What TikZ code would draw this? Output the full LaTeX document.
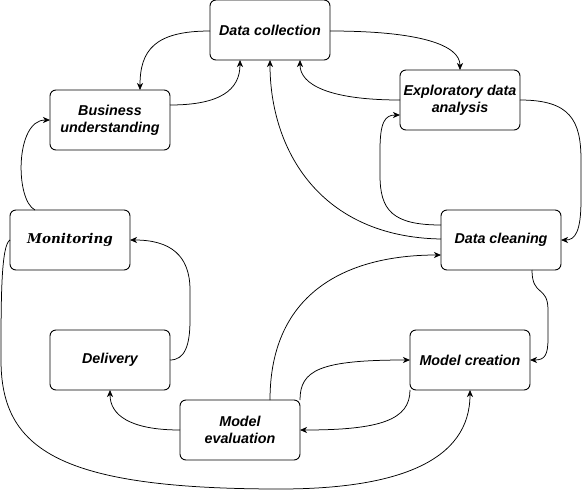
\documentclass[tikz,border=0pt]{standalone}
\usepackage{fontspec}
\setmainfont{Liberation Sans}
\newfontfamily\monitorfont{DejaVu Serif}
\usetikzlibrary{arrows.meta}
\begin{document}
\begin{tikzpicture}[x=1pt,y=-1pt,
  box/.style={draw, line width=0.9pt, rounded corners=6pt, minimum width=120pt, minimum height=60pt, inner sep=0pt, align=center, font=\fontsize{14.3}{17}\selectfont\bfseries\itshape},
  conn/.style={line width=0.75pt, -{Stealth[length=7pt,width=6pt,inset=2pt]}}]
\useasboundingbox (0,0) rectangle (582,491);
\node[box] (dc) at (270,30) {Data collection};
\node[box] (bu) at (110,120) {Business\\understanding};
\node[box] (eda) at (460,100) {Exploratory data\\analysis};
\node[box, font=\fontsize{13.5}{16}\selectfont\monitorfont\bfseries\itshape] (mon) at (70,240) {Monitoring};
\node[box] (cl) at (501,240) {Data cleaning};
\node[box] (del) at (110,360) {Delivery};
\node[box] (mc) at (470,360) {Model creation};
\node[box] (me) at (240,430) {Model\\evaluation};

% coordinates on box borders
\coordinate (dcW) at (210,31);
\coordinate (dcE) at (330,31);
\coordinate (dcB1) at (240,60);
\coordinate (dcB2) at (270,60);
\coordinate (dcB3) at (300,60);
\coordinate (buT) at (140,90);
\coordinate (buE) at (170,105);
\coordinate (buW) at (50,120);
\coordinate (edaT) at (460,70);
\coordinate (edaW1) at (400,100);
\coordinate (edaW2) at (400,115);
\coordinate (edaE) at (520,100);
\coordinate (clW1) at (441,225);
\coordinate (clW2) at (441,239);
\coordinate (clW3) at (441,255);
\coordinate (clE) at (561,240);
\coordinate (clB) at (532,270);
\coordinate (mcE) at (530,360);
\coordinate (mcW) at (410,360);
\coordinate (mcBL) at (410,390);
\coordinate (mcB) at (470,390);
\coordinate (meT1) at (270,400);
\coordinate (meT2) at (300,400);
\coordinate (meE) at (300,430);
\coordinate (meW) at (180,430);
\coordinate (delB) at (110,390);
\coordinate (delE) at (170,360);
\coordinate (monE) at (130,240);
\coordinate (monT) at (35,210);
\coordinate (monW) at (10,240);

\draw[conn] (dcW) .. controls (155,31) and (140,50) .. (buT);
\draw[conn] (buE) .. controls (220,105) and (240,90) .. (dcB1);
\draw[conn] (dcE) .. controls (420,31) and (460,45) .. (edaT);
\draw[conn] (edaW1) .. controls (330,100) and (300,85) .. (dcB3);
\draw[conn] (edaE) .. controls (570,100) and (581,120) .. (581,160) -- (581,200) .. controls (581,232) and (575,240) .. (clE);
\draw[conn] (clW1) .. controls (392,225) and (380,210) .. (380,175) -- (380,150) .. controls (380,122) and (385,115) .. (edaW2);
\draw[conn] (clW2) .. controls (320,237) and (270,150) .. (dcB2);
\draw[conn] (meT1) .. controls (270,290) and (350,255) .. (clW3);
\draw[conn] (clB) .. controls (532,297) and (548,285) .. (548,310) -- (548,338) .. controls (548,355) and (545,360) .. (mcE);
\draw[conn] (meT2) .. controls (300,370) and (320,360) .. (mcW);
\draw[conn] (mcBL) .. controls (410,420) and (380,430) .. (meE);
\draw[conn] (meW) .. controls (130,430) and (110,415) .. (delB);
\draw[conn] (delE) .. controls (185,360) and (190,345) .. (190,320) -- (190,290) .. controls (190,255) and (170,240) .. (monE);
\draw[conn] (monT) .. controls (15,200) and (15,120) .. (buW);
\draw[conn] (monW) .. controls (1,245) and (1,300) .. (1,360) .. controls (1,450) and (60,489) .. (280,489) .. controls (400,489) and (470,460) .. (mcB);
\end{tikzpicture}
\end{document}
